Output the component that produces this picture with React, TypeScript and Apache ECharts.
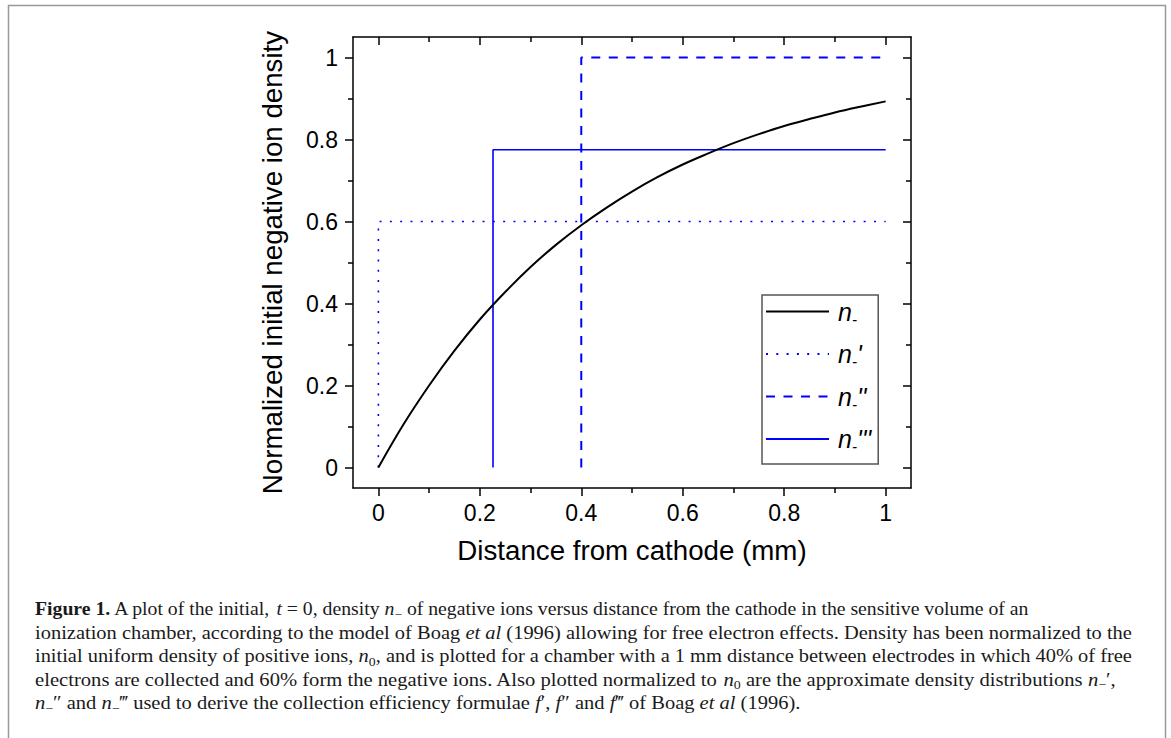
import React, { useEffect, useRef } from 'react';
import * as echarts from 'echarts';

// ---- data ----
const curveX = [0, 0.05, 0.1, 0.15, 0.2, 0.25, 0.3, 0.35, 0.4, 0.45, 0.5, 0.55, 0.6, 0.65, 0.7, 0.75, 0.8, 0.85, 0.9, 0.95, 1.0];
const curveY = [0, 0.106, 0.2, 0.285, 0.361, 0.428, 0.489, 0.543, 0.591, 0.634, 0.673, 0.708, 0.739, 0.766, 0.791, 0.813, 0.833, 0.85, 0.866, 0.88, 0.893];
const primeX = [0, 0, 1];
const primeY = [0, 0.6, 0.6];
const dblX = [0.4, 0.4, 1];
const dblY = [0, 1, 1];
const triX = [0.226, 0.226, 1];
const triY = [0, 0.775, 0.775];
const seriesNames = ['n-', "n-'", "n-''", "n-'''"];
const majorTicks = [0, 0.2, 0.4, 0.6, 0.8, 1];

const captionLines = [
  '{b|Figure 1.} A plot of the initial, {i|t} = 0, density {i|n}{s|−} of negative ions versus distance from the cathode in the sensitive volume of an',
  'ionization chamber, according to the model of Boag {i|et al} ({l|1996}) allowing for free electron effects. Density has been normalized to the',
  'initial uniform density of positive ions, {i|n}{s|0}, and is plotted for a chamber with a 1 mm distance between electrodes in which 40% of free',
  'electrons are collected and 60% form the negative ions. Also plotted normalized to {i|n}{s|0} are the approximate density distributions {i|n}{s|−}′,',
  '{i|n}{s|−}″ and {i|n}{s|−}‴ used to derive the collection efficiency formulae {i|f}′, {i|f}″ and {i|f}‴ of Boag {i|et al} ({l|1996}).',
];
// horizontal stretch per caption line (layout only: the substitute serif is narrower than the original)
const captionStretch = [1.067, 1.106, 1.103, 1.115, 1.108];

const pairs = (xs: number[], ys: number[]) => xs.map((x, i) => [x, ys[i]]);

const SANS = 'Liberation Sans';
const SERIF = 'Liberation Serif';
const BLUE = '#0000ff';

function axis(pos: string, inside: boolean, isX: boolean) {
  return {
    type: 'value',
    min: -0.05,
    max: 1.05,
    position: pos,
    axisLine: { show: true, onZero: false, lineStyle: { color: '#000', width: 1.5 } },
    axisTick: { show: true, inside, length: 8, customValues: majorTicks, lineStyle: { color: '#000', width: 1.5 } },
    minorTick: { show: true, splitNumber: 2, length: 5, lineStyle: { color: '#000', width: 1.5 } },
    splitLine: { show: false },
    minorSplitLine: { show: false },
    axisLabel: {
      show: !inside,
      customValues: majorTicks,
      margin: isX ? 13 : 15,
      color: '#000',
      fontFamily: SANS,
      fontSize: 23,
      formatter: (v: number) => (v < -1e-9 || v > 1 + 1e-9 ? '' : String(Number(v.toFixed(2)))),
    },
  };
}

export default function App() {
  const ref = useRef<HTMLDivElement>(null);
  useEffect(() => {
    const chart = echarts.init(ref.current!, null, { renderer: 'svg' });
    const xBottom: any = axis('bottom', false, true);
    xBottom.name = 'Distance from cathode (mm)';
    xBottom.nameLocation = 'middle';
    xBottom.nameGap = 48;
    xBottom.nameTextStyle = { fontFamily: SANS, fontSize: 27.7, color: '#000' };
    const yLeft: any = axis('left', false, false);
    yLeft.name = 'Normalized initial negative ion density';
    yLeft.nameLocation = 'middle';
    yLeft.nameRotate = 90;
    yLeft.nameGap = 67;
    yLeft.nameTextStyle = { fontFamily: SANS, fontSize: 27.7, color: '#000' };

    const legendRich = {
      n: { fontFamily: SANS, fontStyle: 'italic', fontSize: 25, color: '#000', lineHeight: 30, padding: [0, 0, 0, 4] },
      s: { fontFamily: SANS, fontStyle: 'italic', fontSize: 15, color: '#000', lineHeight: 10, verticalAlign: 'bottom' },
      p: { fontFamily: SANS, fontStyle: 'italic', fontSize: 25, color: '#000', lineHeight: 30 },
    };

    const captionRich = {
      b: { fontFamily: SERIF, fontWeight: 'bold', fontSize: 18.5, color: '#1a1a1a', lineHeight: 24 },
      i: { fontFamily: SERIF, fontStyle: 'italic', fontSize: 18.5, color: '#1a1a1a', lineHeight: 24 },
      s: { fontFamily: SERIF, fontSize: 12.5, color: '#1a1a1a', lineHeight: 14, verticalAlign: 'bottom' },
      l: { fontFamily: SERIF, fontSize: 18.5, color: '#2a86c2', lineHeight: 24 },
    };
    const captionBaseY = 609;
    const captionGraphics = captionLines.map((t, k) => ({
      type: 'text',
      x: 35,
      y: captionBaseY + k * 23.5,
      scaleX: captionStretch[k],
      silent: true,
      style: {
        text: t,
        fill: '#1a1a1a',
        fontFamily: SERIF,
        fontSize: 18.5,
        lineHeight: 24,
        verticalAlign: 'middle',
        align: 'left',
        rich: captionRich,
      },
    }));

    chart.setOption({
      animation: false,
      backgroundColor: '#fff',
      grid: { left: 353, right: 260, top: 37, bottom: 250, containLabel: false },
      xAxis: [xBottom, axis('top', true, true)],
      yAxis: [yLeft, axis('right', true, false)],
      legend: {
        orient: 'vertical',
        left: 762,
        top: 295,
        itemWidth: 63,
        itemHeight: 14,
        itemGap: 15,
        padding: [4, 7, 10, 3],
        borderColor: '#555',
        borderWidth: 1.5,
        backgroundColor: '#fff',
        itemStyle: { opacity: 0 },
        data: seriesNames,
        formatter: (name: string) => {
          const primes = name.slice(2);
          return '{n|n}{s|-}' + (primes ? '{p|' + primes + '}' : '');
        },
        textStyle: { rich: legendRich },
      },
      series: [
        {
          name: seriesNames[0], type: 'line', data: pairs(curveX, curveY), symbol: 'none', smooth: 0.4,
          lineStyle: { color: '#000', width: 2 }, itemStyle: { color: '#000' }, z: 5,
        },
        {
          name: seriesNames[1], type: 'line', data: pairs(primeX, primeY), symbol: 'none',
          lineStyle: { color: BLUE, width: 1.6, type: [2, 8.3] }, itemStyle: { color: BLUE },
        },
        {
          name: seriesNames[2], type: 'line', data: pairs(dblX, dblY), symbol: 'none',
          lineStyle: { color: BLUE, width: 2, type: [9, 8.5] }, itemStyle: { color: BLUE },
        },
        {
          name: seriesNames[3], type: 'line', data: pairs(triX, triY), symbol: 'none',
          lineStyle: { color: BLUE, width: 1.6 }, itemStyle: { color: BLUE },
        },
      ],
      graphic: [
        {
          type: 'rect', silent: true, z: -10,
          shape: { x: 8.5, y: 5.5, width: 1157, height: 760 },
          style: { fill: 'none', stroke: '#999', lineWidth: 1.5 },
        },
        ...captionGraphics,
      ],
    });
    return () => chart.dispose();
  }, []);
  return <div ref={ref} style={{ position: 'absolute', left: 0, top: 0, width: 1171, height: 738 }} />;
}
